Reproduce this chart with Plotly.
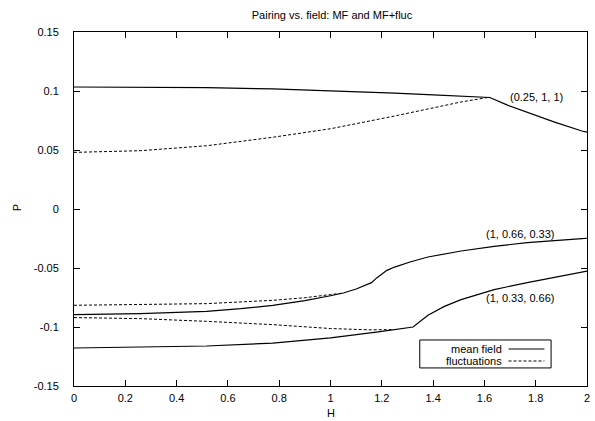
import plotly.graph_objects as go

# ---- data ----
H_a_mf = [0, 0.258, 0.517, 0.775, 1.0, 1.25, 1.4, 1.5, 1.621, 1.69, 1.767, 1.871, 1.98, 2.0]
P_a_mf = [0.1034, 0.1033, 0.1028, 0.1018, 0.1003, 0.0982, 0.0968, 0.0958, 0.0945, 0.0880, 0.0818, 0.0738, 0.0661, 0.0652]
H_a_fl = [0, 0.258, 0.517, 0.775, 1.0, 1.25, 1.509, 1.621]
P_a_fl = [0.0480, 0.0494, 0.0536, 0.0608, 0.0680, 0.0788, 0.0907, 0.0948]

H_b_mf = [0, 0.258, 0.517, 0.65, 0.775, 0.9, 1.0, 1.05, 1.1, 1.14, 1.16, 1.18, 1.199, 1.22, 1.25, 1.31, 1.38, 1.509, 1.638, 1.767, 1.98, 2.0]
P_b_mf = [-0.0895, -0.0887, -0.0867, -0.0845, -0.0816, -0.0777, -0.0735, -0.0712, -0.0678, -0.0645, -0.0624, -0.0584, -0.0550, -0.0520, -0.0492, -0.0449, -0.0407, -0.0356, -0.0316, -0.0285, -0.0251, -0.0248]
H_b_fl = [0, 0.258, 0.517, 0.775, 0.9, 1.0, 1.05]
P_b_fl = [-0.0816, -0.0811, -0.0802, -0.0774, -0.0752, -0.0725, -0.0712]

H_c_mf = [0, 0.258, 0.517, 0.775, 1.0, 1.186, 1.25, 1.322, 1.38, 1.444, 1.509, 1.638, 1.767, 1.98, 2.0]
P_c_mf = [-0.1178, -0.1172, -0.1161, -0.1136, -0.1093, -0.1042, -0.1022, -0.1000, -0.0901, -0.0825, -0.0768, -0.0683, -0.0624, -0.0534, -0.0527]
H_c_fl = [0, 0.258, 0.517, 0.775, 1.0, 1.15, 1.25]
P_c_fl = [-0.0920, -0.0929, -0.0952, -0.0980, -0.1013, -0.1024, -0.1022]

labels = ["(0.25, 1, 1)", "(1, 0.66, 0.33)", "(1, 0.33, 0.66)"]
label_H = [1.804, 1.742, 1.742]
label_P = [0.0949, -0.0208, -0.0751]

x_ticks = [0, 0.2, 0.4, 0.6, 0.8, 1, 1.2, 1.4, 1.6, 1.8, 2]
x_ticktext = ["0", "0.2", "0.4", "0.6", "0.8", "1", "1.2", "1.4", "1.6", "1.8", "2"]
y_ticks = [-0.15, -0.1, -0.05, 0, 0.05, 0.1, 0.15]
y_ticktext = ["-0.15", "-0.1", "-0.05", "0", "0.05", "0.1", "0.15"]

FONT = "Liberation Sans, Arial, sans-serif"
solid = dict(color="black", width=1.2)
dashed = dict(color="black", width=1, dash="3px,2px")

fig = go.Figure()
for hx, py in [(H_a_fl, P_a_fl), (H_b_fl, P_b_fl), (H_c_fl, P_c_fl)]:
    fig.add_trace(go.Scatter(x=hx, y=py, mode="lines", line=dashed, showlegend=False, hoverinfo="skip"))
for hx, py in [(H_a_mf, P_a_mf), (H_b_mf, P_b_mf), (H_c_mf, P_c_mf)]:
    fig.add_trace(go.Scatter(x=hx, y=py, mode="lines", line=solid, showlegend=False, hoverinfo="skip"))

axis_common = dict(
    showgrid=False, zeroline=False, showline=True, linecolor="black", linewidth=1,
    mirror="allticks", ticks="inside", ticklen=6, tickwidth=1, tickcolor="black",
    tickfont=dict(family=FONT, size=11, color="black"),
)
fig.update_xaxes(range=[0, 2], tickvals=x_ticks, ticktext=x_ticktext, ticklabelstandoff=2, **axis_common)
fig.update_yaxes(range=[-0.15, 0.15], tickvals=y_ticks, ticktext=y_ticktext, ticklabelstandoff=12, **axis_common)

annotations = []
for t, hx, py in zip(labels, label_H, label_P):
    annotations.append(dict(x=hx, y=py, xref="x", yref="y", text=t, showarrow=False,
                            font=dict(family=FONT, size=11, color="black"), xanchor="center", yanchor="middle"))
# axis titles (paper coords are relative to the plot area 74..590 x 32..386)
annotations.append(dict(x=0.5, y=(386 - 413) / 354, xref="paper", yref="paper", text="H", showarrow=False,
                        font=dict(family=FONT, size=11, color="black"), xanchor="center", yanchor="middle"))
annotations.append(dict(x=(17 - 74) / 516, y=(386 - 208) / 354, xref="paper", yref="paper", text="P", showarrow=False,
                        textangle=-90, font=dict(family=FONT, size=11, color="black"), xanchor="center", yanchor="middle"))
# legend (gnuplot style: text then sample)
leg_rows = [("mean field", solid, 0.1045), ("fluctuations", dashed, 0.0706)]
shapes = [dict(type="rect", xref="paper", yref="paper", x0=0.674, x1=0.930, y0=0.051, y1=0.130,
               line=dict(color="black", width=1), fillcolor="white", layer="above")]
for name, ln, yy in leg_rows:
    annotations.append(dict(x=0.839, y=yy, xref="paper", yref="paper", text=name, showarrow=False,
                            font=dict(family=FONT, size=11, color="black"), xanchor="right", yanchor="middle"))
    shapes.append(dict(type="line", xref="paper", yref="paper", x0=0.847, x1=0.917, y0=yy, y1=yy, line=ln, layer="above"))

fig.update_layout(
    width=595, height=421,
    margin=dict(l=74, r=5, t=32, b=35),
    paper_bgcolor="white", plot_bgcolor="white",
    title=dict(text="Pairing vs. field: MF and MF+fluc", x=332/595, xanchor="center", y=1 - 15/421, yanchor="middle",
               font=dict(family=FONT, size=11, color="black")),
    annotations=annotations, shapes=shapes, showlegend=False,
)
fig.write_html("out.html", config={"displayModeBar": False},
               post_script="document.body.style.margin='0';")
